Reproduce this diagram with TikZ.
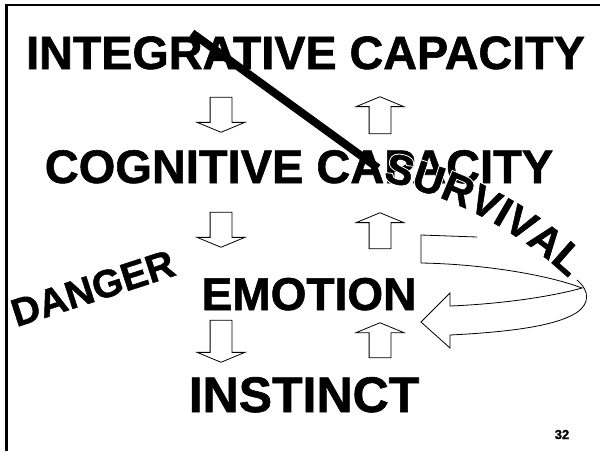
\documentclass[tikz,border=0pt]{standalone}
\usepackage{fontspec}
\setmainfont{Liberation Sans}[BoldFeatures={FakeBold=1.2}]
% same face, drawn with a wide white outline to clear a halo behind letters
\newfontfamily\halofont{Liberation Sans}[BoldFeatures={FakeBold=6}]
\usetikzlibrary{shapes.arrows,calc}

\begin{document}
\begin{tikzpicture}[x=1pt,y=-1pt,
  heading/.style={font=\fontsize{#1}{#1}\selectfont\bfseries, inner sep=0pt, anchor=base},
  blockarrow/.style={single arrow, draw, fill=white, line width=0.8pt,
    inner sep=10.5pt, single arrow head extend=13pt,
    single arrow tip angle=135, minimum height=#1},
  downarrow/.style={blockarrow=#1, shape border rotate=270},
  uparrow/.style={blockarrow=#1, shape border rotate=90},
  survl/.style={font=\fontsize{42}{42}\selectfont\bfseries, inner sep=0pt, anchor=base},
  survhalo/.style={font=\fontsize{42}{42}\halofont\bfseries, text=white, inner sep=0pt, anchor=base},
  outline/.style={line width=0.8pt, line join=miter}
]
\fill[white] (0,0) rectangle (600,451);
\useasboundingbox (0,0) rectangle (600,451);

% slide frame: left and top edges only
\coordinate (fbl) at (6.5,451);
\coordinate (ftl) at (6.5,4.8);
\coordinate (ftr) at (600,4.8);
\draw[line width=2.3pt] (fbl) -- (ftl) -- (ftr);

% the four levels
\node[heading=46.7] (integ) at (305.5,69) {INTEGRATIVE CAPACITY};
\node[heading=47] (cogn) at (299,183) {COGNITIVE CAPACITY};
\node[heading=46] (emo) at (309,310) {EMOTION};
\node[heading=50] (inst) at (304,412) {INSTINCT};

% block arrows between levels
\node[downarrow=35pt] (d1) at (221,112.5) {};
\node[uparrow=37pt]   (u1) at (380,117.5) {};
\node[downarrow=35pt] (d2) at (221,227.5) {};
\node[uparrow=36pt]   (u2) at (380,233) {};
\node[downarrow=42pt] (d3) at (221,339) {};
\node[uparrow=35pt]   (u3) at (380,342.5) {};

% diagonal strike
\coordinate (sa) at (192,33);
\coordinate (sb) at (378,168);
\draw[line width=8pt] (sa) -- (sb);

% looping arrow back into EMOTION
\coordinate (tailT) at (421,235);
\coordinate (tailB) at (421,263);
\coordinate (topEnd) at (477,237);
\coordinate (outS) at (577,280);
\coordinate (joinL) at (450,335);
\coordinate (headLo) at (450,348);
\coordinate (tip) at (421,322);
\coordinate (headUp) at (450,293);
\coordinate (joinU) at (450,306);
\coordinate (meet) at (582,288);
\draw[outline] (tailB) -- (tailT) -- (topEnd);
\draw[outline] (outS) .. controls (590,291) and (590,304) .. (576,313)
  .. controls (555,326) and (510,332) .. (joinL) -- (headLo) -- (tip)
  -- (headUp) -- (joinU) .. controls (500,304) and (550,297) .. (meet)
  .. controls (545,274) and (480,264) .. (tailB);

% SURVIVAL set along an arc: white outlines first, then the letters
\coordinate (svc) at (300,565);
\foreach \ch/\u [count=\i] in {S/333.5,U/1028,R/1750,V/2444.5,I/2917,V/3389.5,A/4084,L/4750.5}{
  \pgfmathsetmacro\ang{-75.8+(\u-333.5)*0.042*0.14579}
  \node[survhalo, rotate={-(\ang)-90}] (svh\i) at ($(svc)+(\ang:393)$) {\ch};
}
\foreach \ch/\u [count=\i] in {S/333.5,U/1028,R/1750,V/2444.5,I/2917,V/3389.5,A/4084,L/4750.5}{
  \pgfmathsetmacro\ang{-75.8+(\u-333.5)*0.042*0.14579}
  \node[survl, rotate={-(\ang)-90}] (sv\i) at ($(svc)+(\ang:393)$) {\ch};
}

\node[heading=39, rotate=18] (danger) at (97,301) {DANGER};
\node[heading=13] (page) at (562,439) {32};
\end{tikzpicture}
\end{document}
